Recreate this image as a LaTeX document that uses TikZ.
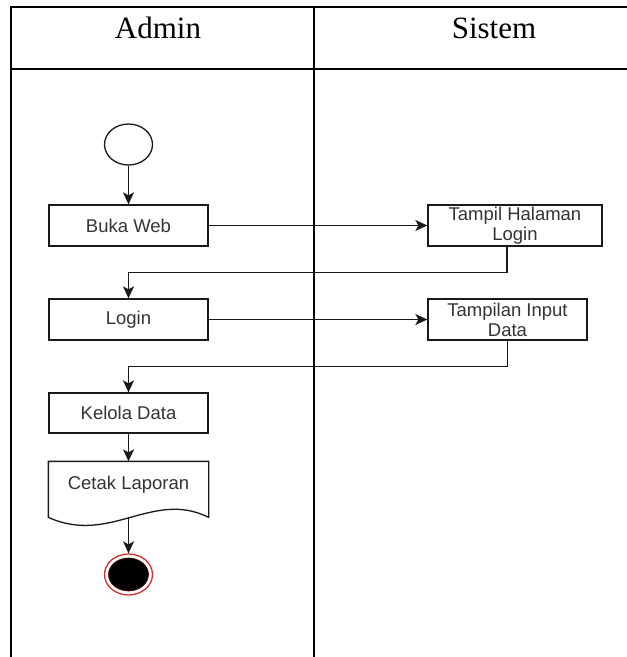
\documentclass[tikz,border=0pt]{standalone}
\usepackage{fontspec}
\setmainfont{Liberation Serif}
\setsansfont{Liberation Sans}
\usetikzlibrary{arrows.meta,calc,shapes.geometric}
\definecolor{txt}{RGB}{51,51,51}
\definecolor{endred}{RGB}{215,45,45}

\begin{document}
\begin{tikzpicture}[x=1pt,y=-1pt,
  lane/.style={line width=2.4pt, black},
  act/.style={draw=black!90, line width=1.3pt, rectangle, inner sep=0pt,
    minimum height=41pt, text=txt, align=center,
    font=\sffamily\fontsize{18.5}{20}\selectfont},
  flow/.style={draw=black!90, line width=1.4pt,
    -{Stealth[length=12pt,width=11pt,inset=3pt]}},
  docline/.style={draw=black!90, line width=1.3pt},
  head/.style={anchor=base, font=\fontsize{31}{36}\selectfont},
  startnode/.style={ellipse, draw=black!90, line width=1.3pt,
    minimum width=48pt, minimum height=41pt, inner sep=0pt},
  endouter/.style={ellipse, draw=endred, line width=1.3pt,
    minimum width=48pt, minimum height=41pt, inner sep=0pt},
  endinner/.style={ellipse, fill=black, draw=black!70!red, line width=0.6pt,
    minimum width=40pt, minimum height=33pt, inner sep=0pt}
]
\useasboundingbox (0,0) rectangle (627,657);

% swimlane table
\draw[lane] (11,657) -- (11,7) -- (627,7);
\draw[lane] (10,69) -- (627,69);
\draw[lane] (314,7) -- (314,657);
\node[head] (hadmin) at (158,38) {Admin};
\node[head] (hsistem) at (494,38) {Sistem};

% activities
\node[startnode] (start) at (128.5,144.5) {};
\node[act, minimum width=159pt] (buka) at (128.5,225.5) {Buka Web};
\node[act, minimum width=174pt] (tampil) at (515,225.5) {Tampil Halaman\\Login};
\node[act, minimum width=159pt] (login) at (128.5,319.5) {Login};
\node[act, minimum width=159pt] (input) at (507.5,319.5) {Tampilan Input\\Data};
\node[act, minimum width=159pt, minimum height=40pt] (kelola) at (128.5,413) {Kelola Data};

% document shape for the report
\node[act, draw=none, minimum width=159pt, minimum height=46pt] (cetak) at (128.5,485) {Cetak Laporan};
\draw[docline] (cetak.north west) -- (cetak.north east)
  -- ($(cetak.north east)+(0,56)$)
  .. controls ($(cetak.north)+(24,28)$) and ($(cetak.north)+(-18.5,84)$) ..
  ($(cetak.north west)+(0,56)$) -- cycle;
\coordinate (cetakbot) at ($(cetak.north)+(0,56)$);

% final node
\node[endouter] (end) at (128.5,574.5) {};
\node[endinner] (endcore) at (end) {};

% flow
\draw[flow] (start) -- (buka);
\draw[flow] (buka) -- (tampil);
\draw[flow] ([xshift=-8pt]tampil.south) -- ++(0,26) -| (login.north);
\draw[flow] (login) -- (input);
\draw[flow] (input.south) -- ++(0,26) -| (kelola.north);
\draw[flow] (kelola) -- (cetak.north);
\draw[flow] (cetakbot) -- (end);
\end{tikzpicture}
\end{document}
